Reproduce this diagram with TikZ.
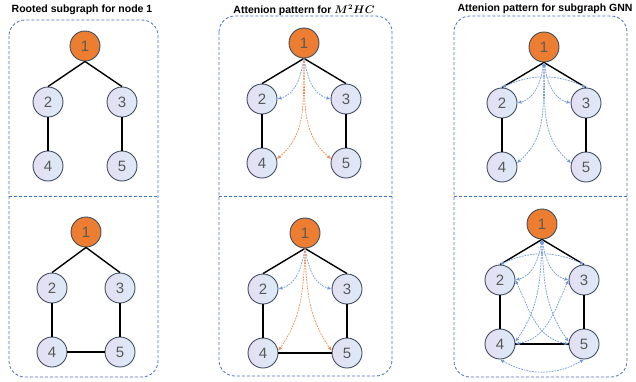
\documentclass[tikz,border=0pt]{standalone}
\usepackage{mathtools}
\usepackage{bm}
\usepackage{fontspec}
\setmainfont{Liberation Sans}
\usepackage{tikz}
\usetikzlibrary{trees,arrows.meta}

\definecolor{boxblue}{HTML}{4472C4}
\definecolor{rootorange}{HTML}{ED7D31}
\definecolor{nodeline}{HTML}{3F4D5F}
\definecolor{nodetext}{HTML}{595959}
\definecolor{leafleft}{HTML}{E4DFF3}
\definecolor{leafright}{HTML}{DCEAF7}
\definecolor{attblue}{HTML}{6F98DC}
\definecolor{attorange}{HTML}{EE8C48}

\begin{document}
\begin{tikzpicture}[x = 1pt, y = 1pt,
  basenode/.style = {circle, draw = nodeline, line width = 0.9pt, minimum size = 30pt, inner sep = 0pt, font = \fontsize{15}{15}\selectfont, text = nodetext},
  rootnode/.style = {basenode, fill = rootorange},
  leafnode/.style = {basenode, left color = leafleft, right color = leafright},
  title/.style = {font = \bfseries\fontsize{10.5}{12}\selectfont},
  panel/.style = {draw = boxblue, dash pattern = on 3pt off 2pt, rounded corners = 16pt, line width = 0.8pt},
  divider/.style = {draw = boxblue, dash pattern = on 3pt off 2pt, line width = 0.8pt},
  level 1/.style = {level distance = 56pt},
  level 2/.style = {level distance = 64pt},
  edge from parent/.style = {draw, black, line width = 1.4pt},
  parent anchor = south, child anchor = north,
  >={Latex[length = 4pt, width = 3.6pt]},
  attb/.style = {attblue, line width = 0.7pt, dash pattern = on 1.8pt off 1pt, ->},
  atto/.style = {attorange, line width = 0.7pt, dash pattern = on 1.8pt off 1pt, ->},
  attbb/.style = {attblue, line width = 0.7pt, dash pattern = on 1.8pt off 1pt, <->}]

\useasboundingbox (0,0) rectangle (636,-381);

% titles
\node[title] (t1) at (82,-10) {Rooted subgraph for node 1};
\node[title] (t2) at (304,-10) {Attenion pattern for $\bm{M^2HC}$};
\node[title] (t3) at (545,-9) {Attenion pattern for subgraph GNN};

% dashed panels
\draw[panel] (9,-20) rectangle (158,-377);
\draw[divider] (9,-196) -- (158,-196);
\draw[panel] (219,-16) rectangle (392,-376);
\draw[divider] (219,-196) -- (392,-196);
\draw[panel] (454,-16) rectangle (627,-377);
\draw[divider] (454,-196) -- (627,-196);

% rooted subgraphs
\node[rootnode] (11) at (85,-46) {1} [sibling distance = 74pt]
child {node[leafnode] (12) {2}
  child {node[leafnode] (14) {4}}
}
child {node[leafnode] (13) {3}
  child {node[leafnode] (15) {5}}
};
\node[rootnode] (21) at (86,-232) {1} [sibling distance = 68pt]
child {node[leafnode] (22) {2}
  child {node[leafnode] (24) {4}}
}
child {node[leafnode] (23) {3}
  child {node[leafnode] (25) {5}}
};
\draw[black, line width = 1.4pt] (24) -- (25);

% M^2HC
\node[rootnode] (31) at (304,-43) {1} [sibling distance = 84pt]
child {node[leafnode] (32) {2}
  child {node[leafnode] (34) {4}}
}
child {node[leafnode] (33) {3}
  child {node[leafnode] (35) {5}}
};
\node[rootnode] (41) at (305,-233) {1} [sibling distance = 84pt]
child {node[leafnode] (42) {2}
  child {node[leafnode] (44) {4}}
}
child {node[leafnode] (43) {3}
  child {node[leafnode] (45) {5}}
};
\draw[black, line width = 1.4pt] (44) -- (45);

\draw[attb] (31.south) to[out = -100, in = 15] (32.east);
\draw[attb] (31.south) to[out = -80, in = 165] (33.west);
\draw[atto] (31.south) to[out = -92, in = 40] (34.15);
\draw[atto] (31.south) to[out = -88, in = 140] (35.165);
\draw[attb] (41.south) to[out = -100, in = 15] (42.east);
\draw[attb] (41.south) to[out = -80, in = 165] (43.west);
\draw[atto] (41.south) to[out = -92, in = 55] (44.8);
\draw[atto] (41.south) to[out = -88, in = 125] (45.172);

% subgraph GNN
\node[rootnode] (51) at (544,-47) {1} [sibling distance = 84pt]
child {node[leafnode] (52) {2}
  child {node[leafnode] (54) {4}}
}
child {node[leafnode] (53) {3}
  child {node[leafnode] (55) {5}}
};
\node[rootnode] (61) at (542,-224) {1} [sibling distance = 84pt]
child {node[leafnode] (62) {2}
  child {node[leafnode] (64) {4}}
}
child {node[leafnode] (63) {3}
  child {node[leafnode] (65) {5}}
};
\draw[black, line width = 1.4pt] (64) -- (65);

\draw[attbb] (51.south) to[out = -100, in = 15] (52.east);
\draw[attbb] (51.south) to[out = -80, in = 165] (53.west);
\draw[attbb] (51.south) to[out = -92, in = 40] (54.15);
\draw[attbb] (51.south) to[out = -88, in = 140] (55.165);
\draw[attbb] (52.north) to[out = 25, in = 155] (53.north);

\draw[attbb] (61.south) to[out = -100, in = 15] (62.east);
\draw[attbb] (61.south) to[out = -80, in = 165] (63.west);
\draw[attbb] (61.south) to[out = -92, in = 55] (64.8);
\draw[attbb] (61.south) to[out = -88, in = 125] (65.172);
\draw[attbb] (62.north) to[out = 25, in = 155] (63.north);
\draw[attbb] (62.east) to[out = -65, in = 170] (65.west);
\draw[attbb] (63.west) to[out = -115, in = 10] (64.east);
\draw[attbb] (64.south) to[out = -30, in = -150] (65.south);
\end{tikzpicture}
\end{document}
